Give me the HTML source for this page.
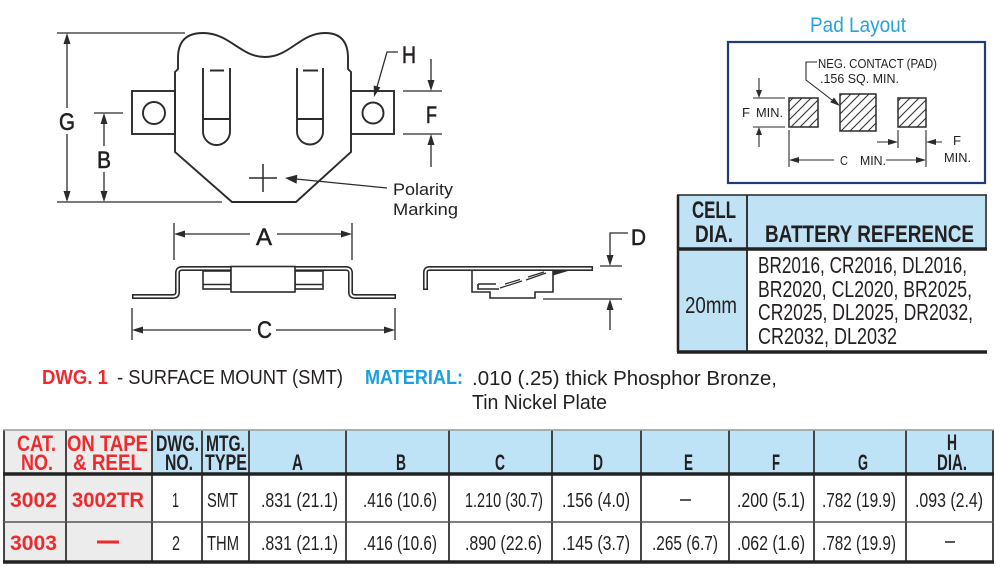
<!DOCTYPE html>
<html><head><meta charset="utf-8"><style>
html,body{margin:0;padding:0;background:#fff;}
svg{display:block;}
text{font-family:"Liberation Sans",Arial,sans-serif;}
</style></head><body>
<svg width="1000" height="578" viewBox="0 0 1000 578" xmlns="http://www.w3.org/2000/svg">
<defs>
<pattern id="hatch" patternUnits="userSpaceOnUse" width="9" height="9">
<path d="M-1,10 L10,-1 M-1,1 L1,-1 M8,10 L10,8" stroke="#333" stroke-width="1.1"/>
</pattern>
</defs>
<rect width="1000" height="578" fill="#fff"/>

<!-- ===== TOP VIEW DRAWING ===== -->
<g stroke="#2b2b2b" stroke-width="1.9" fill="none">
<path d="M175,152 L175,72 L178,69 L178,58 Q178,33 203,33 C230,33 240,57 265,57 C290,57 300,33 325,33 Q348,33 348,58 L348,69 L351,72 L351,152 L296,202 L232,202 Z"/>
<rect x="132" y="91" width="43" height="43"/>
<rect x="351" y="91" width="43" height="43"/>
<circle cx="154" cy="113" r="11"/>
<circle cx="373" cy="113" r="10.5"/>
<path d="M203,68 L203,131.5 A13.5,13.5 0 0 0 230,131.5 L230,68"/>
<path d="M203,119 L230,119 M210,70.5 L224,70.5"/>
<path d="M297,68 L297,131.5 A13,13 0 0 0 323,131.5 L323,68"/>
<path d="M297,119 L323,119 M303,70.5 L318,70.5"/>
<path d="M249,178 L277,178 M263,164 L263,192" stroke-width="1.5"/>
</g>
<g stroke="#2b2b2b" stroke-width="1.3" fill="none">
<path d="M57,33 L185,33 M57,202 L222,202"/>
<path d="M67,43 L67,108 M67,134 L67,192"/>
<path d="M94,113 L123,113 M104,123 L104,146 M104,172 L104,192"/>
<path d="M403,91 L442,91 M403,134 L442,134 M431,59 L431,81 M431,167 L431,144"/>
<path d="M398,52 L387,52 L377,87"/>
<path d="M387,188 L296,179"/>
</g>
<g fill="#2b2b2b">
<polygon points="67,33 63.5,44 70.5,44"/>
<polygon points="67,202 63.5,191 70.5,191"/>
<polygon points="104,113 100.5,124 107.5,124"/>
<polygon points="104,202 100.5,191 107.5,191"/>
<polygon points="431,91 427.5,80 434.5,80"/>
<polygon points="431,134 427.5,145 434.5,145"/>
<polygon points="374,97 380.4,87.4 373.7,85.5"/>
<polygon points="285,178 297.3,174.7 296.6,183.7"/>
</g>
<g fill="#231f20" stroke="#231f20" stroke-width="0.6" font-size="24">
<text x="59" y="130" textLength="16" lengthAdjust="spacingAndGlyphs">G</text>
<text x="97" y="168" textLength="14" lengthAdjust="spacingAndGlyphs">B</text>
<text x="426" y="123" textLength="11" lengthAdjust="spacingAndGlyphs">F</text>
<text x="402" y="63" textLength="14" lengthAdjust="spacingAndGlyphs">H</text>
</g>
<g fill="#231f20" font-size="17">
<text x="393" y="195" textLength="60" lengthAdjust="spacingAndGlyphs">Polarity</text>
<text x="393" y="215" textLength="65" lengthAdjust="spacingAndGlyphs">Marking</text>
</g>

<!-- ===== SIDE VIEW ===== -->
<g stroke="#2b2b2b" stroke-width="1.3" fill="none">
<path d="M174,223 L174,260 M352,223 L352,260 M184,234 L250,234 M277,234 L342,234"/>
<path d="M132,308 L132,340 M395,308 L395,340 M142,330 L251,330 M276,330 L385,330"/>
</g>
<g fill="#2b2b2b">
<polygon points="174,234 185,230.5 185,237.5"/>
<polygon points="352,234 341,230.5 341,237.5"/>
<polygon points="132,330 143,326.5 143,333.5"/>
<polygon points="395,330 384,326.5 384,333.5"/>
</g>
<g fill="#231f20" stroke="#231f20" stroke-width="0.5" font-size="24">
<text x="256" y="245" textLength="16" lengthAdjust="spacingAndGlyphs">A</text>
<text x="257" y="338" textLength="15" lengthAdjust="spacingAndGlyphs">C</text>
</g>
<path d="M132,296.5 L173,296.5 Q177.5,296.5 177.5,292 L177.5,273 Q177.5,268.5 182,268.5 L346,268.5 Q350.5,268.5 350.5,273 L350.5,292 Q350.5,296.5 355,296.5 L396,296.5" stroke="#2b2b2b" stroke-width="5" fill="none"/>
<path d="M133.5,296.5 L173,296.5 Q177.5,296.5 177.5,292 L177.5,273 Q177.5,268.5 182,268.5 L346,268.5 Q350.5,268.5 350.5,273 L350.5,292 Q350.5,296.5 355,296.5 L394.5,296.5" stroke="#fff" stroke-width="1.8" fill="none"/>
<g stroke="#2b2b2b" stroke-width="1.6" fill="#fff">
<rect x="203" y="271" width="28" height="18"/>
<rect x="295" y="271" width="28" height="18"/>
<rect x="231" y="266.5" width="64" height="25.5"/>
<path d="M203,284.5 L231,284.5 M295,284.5 L323,284.5" fill="none"/>
</g>

<!-- right side view -->
<path d="M425.5,290 L425.5,272.5 Q425.5,268.5 429.5,268.5 L593,268.5" stroke="#2b2b2b" stroke-width="5" fill="none"/>
<path d="M425.5,288.5 L425.5,272.5 Q425.5,268.5 429.5,268.5 L591.5,268.5" stroke="#fff" stroke-width="1.8" fill="none"/>
<g stroke="#2b2b2b" stroke-width="1.6" fill="none">
<path d="M472,271 L472,292 L490,292 L490,298 L535,298 L535,292 L553,292 L553,271" fill="#fff"/>
<path d="M478,284 L496,284 M478,284 L478,289 L499,289"/>
<path d="M500,288 L522,281 M526,280 L546,273 M505,284 L520,279.5 M528,277 L544,272" stroke-width="1.2"/>
</g>
<polygon points="553,271 553,275.5 568,271" fill="#2b2b2b"/>
<g stroke="#2b2b2b" stroke-width="1.3" fill="none">
<path d="M600,266 L622,266 M543,299 L622,299 M628,233 L610,233 L610,256 M610,330 L610,309"/>
</g>
<g fill="#2b2b2b">
<polygon points="610,266 606.5,255 613.5,255"/>
<polygon points="610,299 606.5,310 613.5,310"/>
</g>
<text x="631" y="245" font-size="22" fill="#231f20" stroke="#231f20" stroke-width="0.6" textLength="15" lengthAdjust="spacingAndGlyphs">D</text>

<!-- ===== PAD LAYOUT ===== -->
<text x="810" y="32" font-size="21" fill="#27a2dc" textLength="96" lengthAdjust="spacingAndGlyphs">Pad Layout</text>
<rect x="728" y="42" width="257" height="141" fill="none" stroke="#1e3b7b" stroke-width="2.2"/>
<g stroke="#2b2b2b" stroke-width="1.5" fill="url(#hatch)">
<rect x="789" y="98" width="29" height="29"/>
<rect x="840" y="94" width="36" height="37"/>
<rect x="898" y="98" width="28" height="29"/>
</g>
<g stroke="#2b2b2b" stroke-width="1.1" fill="none">
<path d="M817,62 L806,62 L806,80 L832,100"/>
<path d="M753,98 L785,98 M753,127 L785,127 M759,78 L759,90 M759,147 L759,135"/>
<path d="M789,130 L789,167 M926,130 L926,167 M898,130 L898,148"/>
<path d="M799,160 L834,160 M886,160 L916,160"/>
<path d="M877,142 L888,142 M942,142 L936,142"/>
</g>
<g fill="#2b2b2b">
<polygon points="840,106 830.2,102.3 833.9,97.5"/>
<polygon points="759,98 756,90 762,90"/>
<polygon points="759,127 756,135 762,135"/>
<polygon points="789,160 799,157 799,163"/>
<polygon points="926,160 916,157 916,163"/>
<polygon points="898,142 888,139 888,145"/>
<polygon points="926,142 936,139 936,145"/>
</g>
<g fill="#231f20" font-size="12.5">
<text x="818" y="68" textLength="119" lengthAdjust="spacingAndGlyphs">NEG. CONTACT (PAD)</text>
<text x="820" y="83" textLength="79" lengthAdjust="spacingAndGlyphs">.156 SQ. MIN.</text>
<text x="742" y="117" textLength="8" lengthAdjust="spacingAndGlyphs">F</text>
<text x="756" y="117" textLength="27" lengthAdjust="spacingAndGlyphs">MIN.</text>
<text x="840" y="165" textLength="8" lengthAdjust="spacingAndGlyphs">C</text>
<text x="860" y="165" textLength="26" lengthAdjust="spacingAndGlyphs">MIN.</text>
<text x="953" y="145" textLength="8" lengthAdjust="spacingAndGlyphs">F</text>
<text x="944" y="162" textLength="27" lengthAdjust="spacingAndGlyphs">MIN.</text>
</g>

<!-- ===== BATTERY REFERENCE TABLE ===== -->
<rect x="677" y="195" width="310" height="54" fill="#bfe3f5"/>
<rect x="677" y="249" width="70" height="103" fill="#bfe3f5"/>
<g stroke="#222" fill="none">
<path d="M677,195 L987,195" stroke-width="1.5"/>
<path d="M678,195 L678,352" stroke-width="2.5"/>
<path d="M747,195 L747,352" stroke-width="1.8"/>
<path d="M986,195 L986,249" stroke-width="1.5"/>
<path d="M677,249 L987,249" stroke-width="3.5"/>
<path d="M677,352 L987,352" stroke-width="3.5"/>
</g>
<g fill="#231f20" font-size="24" font-weight="bold">
<text x="692" y="218" textLength="44" lengthAdjust="spacingAndGlyphs">CELL</text>
<text x="695" y="242" textLength="38" lengthAdjust="spacingAndGlyphs">DIA.</text>
<text x="765" y="242" textLength="209" lengthAdjust="spacingAndGlyphs">BATTERY REFERENCE</text>
</g>
<g fill="#231f20" font-size="23">
<text x="685" y="313" textLength="52" lengthAdjust="spacingAndGlyphs">20mm</text>
<text x="758" y="273" textLength="209" lengthAdjust="spacingAndGlyphs">BR2016, CR2016, DL2016,</text>
<text x="758" y="297" textLength="214" lengthAdjust="spacingAndGlyphs">BR2020, CL2020, BR2025,</text>
<text x="758" y="320" textLength="215" lengthAdjust="spacingAndGlyphs">CR2025, DL2025, DR2032,</text>
<text x="758" y="344" textLength="139" lengthAdjust="spacingAndGlyphs">CR2032, DL2032</text>
</g>

<!-- ===== DESCRIPTION TEXT ===== -->
<g font-size="20">
<text x="42" y="384" fill="#ee2a2e" font-weight="bold" textLength="66" lengthAdjust="spacingAndGlyphs">DWG. 1</text>
<text x="117" y="384" fill="#231f20" textLength="226" lengthAdjust="spacingAndGlyphs">- SURFACE MOUNT (SMT)</text>
<text x="365" y="384" fill="#1ba0db" font-weight="bold" textLength="98" lengthAdjust="spacingAndGlyphs">MATERIAL:</text>
<text x="472" y="385" fill="#231f20" textLength="305" lengthAdjust="spacingAndGlyphs">.010 (.25) thick Phosphor Bronze,</text>
<text x="472" y="409" fill="#231f20" textLength="135" lengthAdjust="spacingAndGlyphs">Tin Nickel Plate</text>
</g>

<!-- ===== BOTTOM TABLE ===== -->
<rect x="4" y="430" width="148" height="132" fill="#ececec"/>
<rect x="152" y="430" width="841" height="44" fill="#bee3f6"/>
<g stroke="#333" stroke-width="1.8" fill="none">
<path d="M4,430 L4,562 M66,430 L66,562 M152,430 L152,562 M202,430 L202,562 M249,430 L249,562 M346,430 L346,562 M449,430 L449,562 M552,430 L552,562 M641,430 L641,562 M729,430 L729,562 M814,430 L814,562 M906,430 L906,562 M993,430 L993,562"/>
</g>
<path d="M3,430 L994,430" stroke="#999" stroke-width="1.5"/>
<path d="M3,474 L994,474" stroke="#222" stroke-width="3.5"/>
<path d="M3,522 L994,522" stroke="#555" stroke-width="1.4"/>
<path d="M3,562 L994,562" stroke="#222" stroke-width="3.5"/>

<g font-size="22" font-weight="bold">
<g fill="#ee2a2e">
<text x="17" y="451" textLength="39" lengthAdjust="spacingAndGlyphs">CAT.</text>
<text x="21" y="470" textLength="32" lengthAdjust="spacingAndGlyphs">NO.</text>
<text x="67" y="451" textLength="81" lengthAdjust="spacingAndGlyphs">ON TAPE</text>
<text x="73" y="470" textLength="69" lengthAdjust="spacingAndGlyphs">&amp; REEL</text>
</g>
<g fill="#231f20">
<text x="156" y="451" textLength="43" lengthAdjust="spacingAndGlyphs">DWG.</text>
<text x="165" y="470" textLength="28" lengthAdjust="spacingAndGlyphs">NO.</text>
<text x="206" y="451" textLength="39" lengthAdjust="spacingAndGlyphs">MTG.</text>
<text x="205" y="470" textLength="42" lengthAdjust="spacingAndGlyphs">TYPE</text>
<text x="292" y="470" textLength="11" lengthAdjust="spacingAndGlyphs">A</text>
<text x="396" y="470" textLength="10" lengthAdjust="spacingAndGlyphs">B</text>
<text x="495" y="470" textLength="10" lengthAdjust="spacingAndGlyphs">C</text>
<text x="593" y="470" textLength="10" lengthAdjust="spacingAndGlyphs">D</text>
<text x="684" y="470" textLength="9" lengthAdjust="spacingAndGlyphs">E</text>
<text x="772" y="470" textLength="8" lengthAdjust="spacingAndGlyphs">F</text>
<text x="858" y="470" textLength="10" lengthAdjust="spacingAndGlyphs">G</text>
<text x="947" y="450" textLength="10" lengthAdjust="spacingAndGlyphs">H</text>
<text x="937" y="470" textLength="30" lengthAdjust="spacingAndGlyphs">DIA.</text>
</g>
</g>

<g font-size="21" font-weight="bold" fill="#ee2a2e">
<text x="10" y="507" textLength="47" lengthAdjust="spacingAndGlyphs">3002</text>
<text x="72" y="507" textLength="72" lengthAdjust="spacingAndGlyphs">3002TR</text>
<text x="10" y="550" textLength="47" lengthAdjust="spacingAndGlyphs">3003</text>
</g>
<rect x="97" y="540.5" width="22" height="3" fill="#ee2a2e"/>

<g font-size="20" fill="#231f20">
<text x="172" y="507" textLength="7" lengthAdjust="spacingAndGlyphs">1</text>
<text x="207" y="507" textLength="31" lengthAdjust="spacingAndGlyphs">SMT</text>
<text x="261" y="507" textLength="77" lengthAdjust="spacingAndGlyphs">.831 (21.1)</text>
<text x="363" y="507" textLength="74" lengthAdjust="spacingAndGlyphs">.416 (10.6)</text>
<text x="465" y="507" textLength="78" lengthAdjust="spacingAndGlyphs">1.210 (30.7)</text>
<text x="562" y="507" textLength="68" lengthAdjust="spacingAndGlyphs">.156 (4.0)</text>
<text x="737" y="507" textLength="68" lengthAdjust="spacingAndGlyphs">.200 (5.1)</text>
<text x="822" y="507" textLength="74" lengthAdjust="spacingAndGlyphs">.782 (19.9)</text>
<text x="915" y="507" textLength="68" lengthAdjust="spacingAndGlyphs">.093 (2.4)</text>

<text x="172" y="550" textLength="8" lengthAdjust="spacingAndGlyphs">2</text>
<text x="207" y="550" textLength="32" lengthAdjust="spacingAndGlyphs">THM</text>
<text x="261" y="550" textLength="77" lengthAdjust="spacingAndGlyphs">.831 (21.1)</text>
<text x="363" y="550" textLength="74" lengthAdjust="spacingAndGlyphs">.416 (10.6)</text>
<text x="465" y="550" textLength="77" lengthAdjust="spacingAndGlyphs">.890 (22.6)</text>
<text x="562" y="550" textLength="68" lengthAdjust="spacingAndGlyphs">.145 (3.7)</text>
<text x="652" y="550" textLength="66" lengthAdjust="spacingAndGlyphs">.265 (6.7)</text>
<text x="737" y="550" textLength="68" lengthAdjust="spacingAndGlyphs">.062 (1.6)</text>
<text x="822" y="550" textLength="74" lengthAdjust="spacingAndGlyphs">.782 (19.9)</text>
</g>
<g stroke="#231f20" stroke-width="1.5">
<path d="M680,500 L691,500"/>
<path d="M945,542 L955,542"/>
</g>
</svg>
</body></html>
